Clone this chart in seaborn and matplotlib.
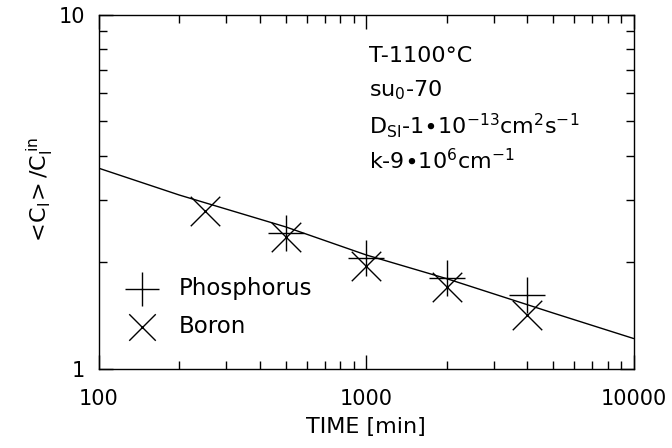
import numpy as np
import pandas as pd
import matplotlib
matplotlib.use("Agg")
import matplotlib.pyplot as plt
import matplotlib.ticker as mticker
import seaborn as sns

# model curve
fit_time = [100, 200, 500, 1000, 2000, 5000, 10000]
fit_ratio = [3.69, 3.10, 2.52, 2.10, 1.80, 1.44, 1.22]

# measured points
p_time = [500, 1000, 2000, 4000]
p_ratio = [2.43, 2.06, 1.81, 1.62]
b_time = [250, 500, 1000, 2000, 4000]
b_ratio = [2.79, 2.36, 1.95, 1.71, 1.42]

sns.set_style("ticks")
plt.rcParams['font.family'] = ['DejaVu Sans']
plt.rcParams['mathtext.fontset'] = 'dejavusans'
plt.rcParams['text.color'] = 'black'
plt.rcParams['axes.labelcolor'] = 'black'
plt.rcParams['xtick.color'] = 'black'
plt.rcParams['ytick.color'] = 'black'

fig = plt.figure(figsize=(6.72, 4.48), dpi=100)
ax = fig.add_axes([0.147, 0.176, 0.796, 0.791])

sns.lineplot(x=fit_time, y=fit_ratio, ax=ax, color='black', lw=1.0)
sns.scatterplot(x=p_time, y=p_ratio, ax=ax, marker='+', s=700, color='black',
                linewidth=1.0, label='Phosphorus')
sns.scatterplot(x=b_time, y=b_ratio, ax=ax, marker='x', s=450, color='black',
                linewidth=1.0, label='Boron')

ax.set_xscale('log')
ax.set_yscale('log')
ax.set_xlim(100, 10000)
ax.set_ylim(1, 10)

ax.xaxis.set_major_locator(mticker.FixedLocator([100, 1000, 10000]))
ax.xaxis.set_major_formatter(mticker.FixedFormatter(['100', '1000', '10000']))
ax.yaxis.set_major_locator(mticker.FixedLocator([1, 10]))
ax.yaxis.set_major_formatter(mticker.FixedFormatter(['1', '10']))
ax.xaxis.set_minor_locator(mticker.LogLocator(base=10, subs=np.arange(2, 10)))
ax.yaxis.set_minor_locator(mticker.LogLocator(base=10, subs=np.arange(2, 10)))
ax.xaxis.set_minor_formatter(mticker.NullFormatter())
ax.yaxis.set_minor_formatter(mticker.NullFormatter())

ax.tick_params(which='both', direction='in', top=True, right=True, width=1.0)
ax.tick_params(which='major', length=10, labelsize=15)
ax.tick_params(axis='x', which='major', pad=14)
ax.tick_params(axis='y', which='major', pad=10)
ax.tick_params(which='minor', length=6)
for s in ax.spines.values():
    s.set_linewidth(1.0)
    s.set_color('black')

ax.set_xlabel('TIME [min]', fontsize=16, labelpad=6)
ax.set_ylabel(r'$<\!\mathrm{C_I}\!>/\mathrm{C_I^{\,in}}$', fontsize=16, labelpad=2)

ax.legend(loc='lower left', bbox_to_anchor=(0.0, 0.03), frameon=False,
          fontsize=16.5, handletextpad=0.6, labelspacing=0.65, markerscale=0.9)

txt = ['T-1100°C',
       r'su$_0$-70',
       r'D$_\mathrm{SI}$-1$\bullet$10$^{-13}$cm$^2$s$^{-1}$',
       r'k-9$\bullet$10$^6$cm$^{-1}$']
for i, t in enumerate(txt):
    ax.text(0.506, 0.885 - i * 0.099, t, transform=ax.transAxes,
            fontsize=16, va='center', ha='left')

fig.savefig('out.png', dpi=100)
